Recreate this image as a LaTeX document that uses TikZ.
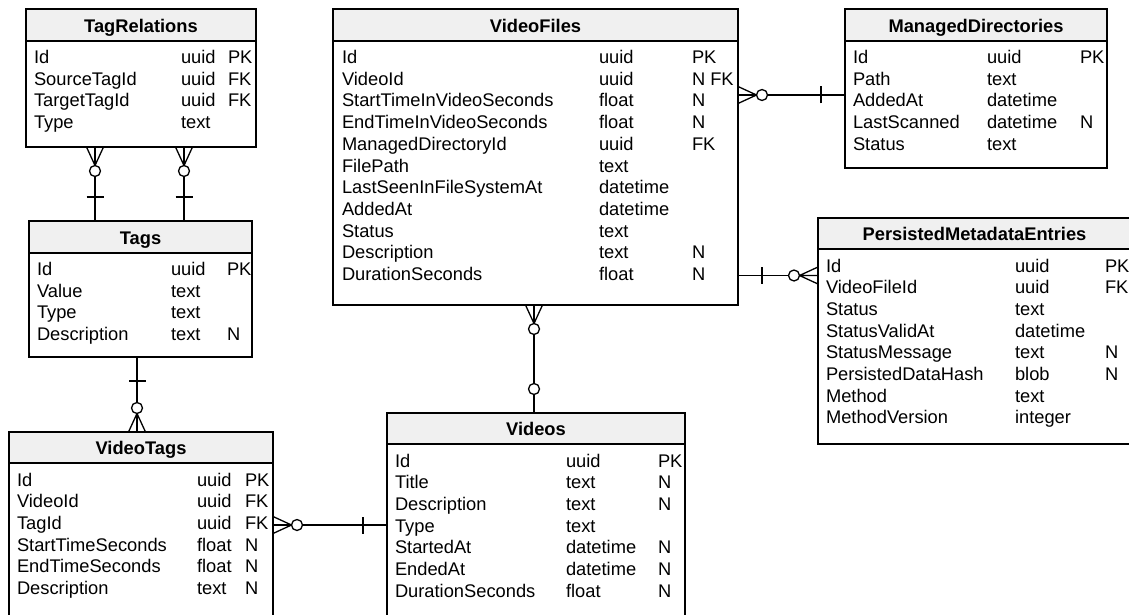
\documentclass[tikz,border=0pt]{standalone}
\usepackage{fontspec}
\setmainfont{Liberation Sans}
\usetikzlibrary{fit,calc}
\definecolor{hdr}{RGB}{240,240,240}
\tikzset{
  tbl/.style={draw=black, line width=1.3pt, inner sep=0pt, outer sep=0pt},
  cell/.style={anchor=base west, inner sep=0pt, outer sep=0pt, font=\fontsize{18.3}{21.7}\selectfont},
  ttl/.style={anchor=base, inner sep=0pt, outer sep=0pt, font=\fontsize{18.3}{21.7}\selectfont\bfseries},
  conn/.style={line width=1.3pt, draw=black},
  crowzero/.pic={
    \draw[conn] (0,-8.5) -- (18.5,0) (0,8.5) -- (18.5,0) (0,0) -- (18.5,0);
    \draw[conn, fill=white] (24,0) circle[radius=5.5pt];
  },
  onebar/.pic={
    \draw[conn] (24,-8.5) -- (24,8.5);
  },
  zerocirc/.pic={
    \draw[conn, fill=white] (24,0) circle[radius=5.5pt];
  }
}
\newcommand{\ertable}[7]{%
  \fill[hdr] (#2,#3) rectangle (#4,#6);
  \node[tbl, fit={(#2,#3) (#4,#5)}] (#1) {};
  \draw[tbl] (#2,#6) -- (#4,#6);
  \node[ttl] (#1-title) at ({(#2+#4)/2},{#6-8.5}) {#7};
}
\newcommand{\errows}[6]{%
  \foreach \na/\ty/\ke [count=\i from 0] in {#6} {
    \node[cell] (#1-n\i) at (#2,{#5+21.7*\i}) {\na};
    \node[cell] (#1-t\i) at (#3,{#5+21.7*\i}) {\ty};
    \node[cell] (#1-k\i) at (#4,{#5+21.7*\i}) {\ke};
  }
}
\begin{document}
\begin{tikzpicture}[x=1pt,y=-1pt]
\useasboundingbox (0,0) rectangle (1129,615);
\clip (0,0) rectangle (1129,615);
\fill[white] (0,0) rectangle (1129,615);

% TagRelations
\ertable{TagRel}{26}{9}{256}{147}{41}{TagRelations}
\errows{TagRel}{34}{181}{228}{63.5}{Id/uuid/PK, SourceTagId/uuid/FK, TargetTagId/uuid/FK, Type/text/{}}

% Tags
\ertable{Tags}{29}{221}{252}{357}{253}{Tags}
\errows{Tags}{37}{171}{227}{275.5}{Id/uuid/PK, Value/text/{}, Type/text/{}, Description/text/N}

% VideoTags
\ertable{VTags}{9}{432}{273}{630}{463}{VideoTags}
\errows{VTags}{17}{197}{245}{486}{Id/uuid/PK, VideoId/uuid/FK, TagId/uuid/FK, StartTimeSeconds/float/N, EndTimeSeconds/float/N, Description/text/N}

% Videos
\ertable{Videos}{387}{413}{685}{630}{444}{Videos}
\errows{Videos}{395}{566}{658}{467}{Id/uuid/PK, Title/text/N, Description/text/N, Type/text/{}, StartedAt/datetime/N, EndedAt/datetime/N, DurationSeconds/float/N}

% VideoFiles
\ertable{VFiles}{333}{9}{738}{305}{41}{VideoFiles}
\errows{VFiles}{342}{599}{692}{63.5}{Id/uuid/PK, VideoId/uuid/N FK, StartTimeInVideoSeconds/float/N, EndTimeInVideoSeconds/float/N, ManagedDirectoryId/uuid/FK, FilePath/text/{}, LastSeenInFileSystemAt/datetime/{}, AddedAt/datetime/{}, Status/text/{}, Description/text/N, DurationSeconds/float/N}

% ManagedDirectories
\ertable{MDirs}{845}{9}{1107}{168}{41}{ManagedDirectories}
\errows{MDirs}{853}{987}{1080}{63.5}{Id/uuid/PK, Path/text/{}, AddedAt/datetime/{}, LastScanned/datetime/N, Status/text/{}}

% PersistedMetadataEntries
\ertable{PME}{818}{218}{1131}{444}{249}{PersistedMetadataEntries}
\errows{PME}{826}{1015}{1105}{272}{Id/uuid/PK, VideoFileId/uuid/FK, Status/text/{}, StatusValidAt/datetime/{}, StatusMessage/text/N, PersistedDataHash/blob/N, Method/text/{}, MethodVersion/integer/{}}

% helper coordinates for connector positions
\coordinate (xa) at (95,0);
\coordinate (xb) at (184,0);
\coordinate (xc) at (137,0);
\coordinate (xd) at (534,0);
\coordinate (ya) at (0,525);
\coordinate (yb) at (0,95);
\coordinate (yc) at (0,275.5);

% TagRelations -> Tags (two)
\draw[conn] (TagRel.south -| xa) coordinate (c1a) -- (Tags.north -| xa) coordinate (c1b);
\pic[rotate=-90] at (c1a) {crowzero};
\pic[rotate=90] at (c1b) {onebar};
\draw[conn] (TagRel.south -| xb) coordinate (c2a) -- (Tags.north -| xb) coordinate (c2b);
\pic[rotate=-90] at (c2a) {crowzero};
\pic[rotate=90] at (c2b) {onebar};

% Tags -> VideoTags
\draw[conn] (Tags.south -| xc) coordinate (c3a) -- (VTags.north -| xc) coordinate (c3b);
\pic[rotate=-90] at (c3a) {onebar};
\pic[rotate=90] at (c3b) {crowzero};

% VideoTags -> Videos
\draw[conn] (VTags.east |- ya) coordinate (c4a) -- (Videos.west |- ya) coordinate (c4b);
\pic at (c4a) {crowzero};
\pic[rotate=180] at (c4b) {onebar};

% VideoFiles -> Videos
\draw[conn] (VFiles.south -| xd) coordinate (c5a) -- (Videos.north -| xd) coordinate (c5b);
\pic[rotate=-90] at (c5a) {crowzero};
\pic[rotate=90] at (c5b) {zerocirc};

% VideoFiles -> ManagedDirectories
\draw[conn] (VFiles.east |- yb) coordinate (c6a) -- (MDirs.west |- yb) coordinate (c6b);
\pic at (c6a) {crowzero};
\pic[rotate=180] at (c6b) {onebar};

% VideoFiles -> PersistedMetadataEntries
\draw[conn] (VFiles.east |- yc) coordinate (c7a) -- (PME.west |- yc) coordinate (c7b);
\pic at (c7a) {onebar};
\pic[rotate=180] at (c7b) {crowzero};
\end{tikzpicture}
\end{document}
